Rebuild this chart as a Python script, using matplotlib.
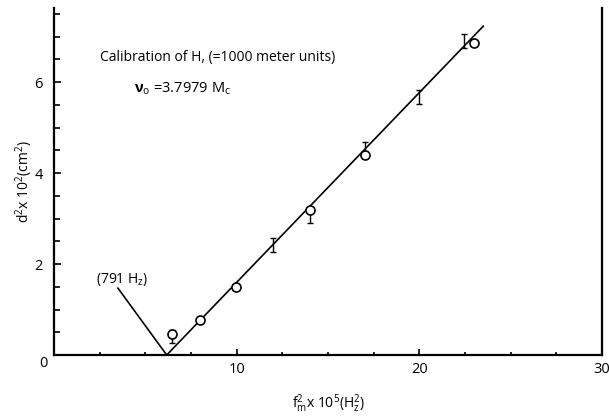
import matplotlib
matplotlib.use("Agg")
import matplotlib.pyplot as plt
from matplotlib.ticker import MultipleLocator

plt.rcParams['font.family'] = ['Open Sans', 'DejaVu Sans']
plt.rcParams['mathtext.fontset'] = 'custom'
plt.rcParams['mathtext.rm'] = 'Open Sans'
plt.rcParams['mathtext.it'] = 'Open Sans'
plt.rcParams['mathtext.bf'] = 'Open Sans:bold'

# Measured calibration points (open circles)
circle_x = [6.45, 8.0, 9.95, 14.0, 17.0, 23.0]
circle_y = [0.46, 0.77, 1.49, 3.19, 4.40, 6.86]

# Error-bar readings ("I" marks): centre and half-height
bar_x = [6.45, 12.0, 14.0, 17.0, 20.0, 22.46]
bar_y = [0.40, 2.42, 3.05, 4.54, 5.67, 6.90]
bar_err = [0.14, 0.15, 0.15, 0.14, 0.15, 0.15]

# Fitted V-shaped calibration line (vertex at the 791 Hz cut-off)
line_x = [3.5, 6.17, 23.5]
line_y = [1.47, 0.0, 7.23]

x_ticks = [10, 20, 30]
y_ticks = [2, 4, 6]

fig = plt.figure(figsize=(6.09, 4.16), dpi=100)
ax = fig.add_axes([54 / 609, 1 - 355 / 416, (602 - 54) / 609, (355 - 8) / 416])

ax.plot(line_x, line_y, color='black', lw=1.2, zorder=2)
ax.errorbar(bar_x, bar_y, yerr=bar_err, fmt='none', ecolor='black',
            elinewidth=1.0, capsize=2.5, capthick=1.0, zorder=3)
ax.plot(circle_x, circle_y, 'o', ms=6.5, mfc='white', mec='black',
        mew=1.2, zorder=4)

ax.set_xlim(0, 30)
ax.set_ylim(0, 7.63)

ax.spines['top'].set_visible(False)
for s in ['left', 'bottom', 'right']:
    ax.spines[s].set_linewidth(1.6)

ax.set_xticks(x_ticks)
ax.set_yticks(y_ticks)
ax.xaxis.set_minor_locator(MultipleLocator(2.5))
ax.yaxis.set_minor_locator(MultipleLocator(0.5))
ax.tick_params(axis='both', which='both', direction='in', width=1.2,
               labelsize=10.5)
ax.tick_params(axis='x', which='major', length=4, pad=5)
ax.tick_params(axis='x', which='minor', length=2)
ax.tick_params(axis='y', which='major', length=5, pad=8)
ax.tick_params(axis='y', which='minor', length=4)
ax.tick_params(right=False, top=False, which='both')

# shared origin label at the corner
ax.text(-0.6, -0.18, '0', fontsize=10.5, ha='center', va='center',
        clip_on=False)

ax.set_ylabel(r'd$^2$x 10$^2$(cm$^2$)', fontsize=10, labelpad=0)
ax.set_xlabel(r'f$^2_m$x 10$^5$(H$_z^2$)', fontsize=10, labelpad=11)

ax.text(2.5, 6.55, 'Calibration of H, (=1000 meter units)', fontsize=10,
        ha='left', va='center')
ax.text(4.4, 5.85, r'$\mathbf{\nu}_\mathrm{o}$ =3.7979 M$_\mathrm{c}$',
        fontsize=10.5, ha='left', va='center')
ax.text(2.3, 1.67, r'(791 H$_z$)', fontsize=10, ha='left', va='center')

fig.savefig('out.png', dpi=100)
